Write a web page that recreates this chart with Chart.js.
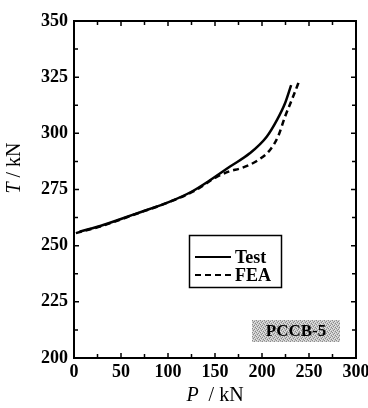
<!DOCTYPE html>
<html>
<head>
<meta charset="utf-8">
<script src="https://cdn.jsdelivr.net/npm/chart.js@4"></script>
<style>
  html, body { margin: 0; padding: 0; background: #fff; }
  #wrap { width: 368px; height: 408px; }
</style>
</head>
<body>
<div id="wrap"><canvas id="tc"></canvas></div>
<script>
// values
const testP = [6, 31, 67, 102, 125, 145, 166, 187, 205, 216, 224.5, 231];
const testT = [256.2, 259.2, 264.4, 269.6, 274, 279.2, 285.2, 291.1, 298.5, 306, 313.4, 321.5];
const feaP = [2, 30, 65, 100, 130, 150, 166, 177, 194, 208.5, 217, 224.5, 231.6, 238.6, 240];
const feaT = [255.6, 258.8, 264, 269.2, 274.8, 280.2, 283.2, 284.4, 287.6, 292.6, 298.5, 307.4, 314.8, 322.3, 324];
const xTicks = [0, 50, 100, 150, 200, 250, 300];
const yTicks = [200, 225, 250, 275, 300, 325, 350];
const seriesNames = ["Test", "FEA"];
const specimen = "PCCB-5";

const serif = "'Liberation Serif', 'DejaVu Serif', serif";

function pts(xs, ys) {
  return xs.map((x, i) => ({ x: x, y: ys[i] }));
}

// speckled grey like the scanned label box
function speckle(ctx) {
  const c = document.createElement("canvas");
  c.width = 4; c.height = 4;
  const g = c.getContext("2d");
  g.fillStyle = "#c4c4c4";
  g.fillRect(0, 0, 4, 4);
  g.fillStyle = "#8a8a8a";
  [[0, 0], [2, 1], [1, 2], [3, 3]].forEach(p => g.fillRect(p[0], p[1], 1, 1));
  g.fillStyle = "#e6e6e6";
  [[1, 0], [3, 1], [0, 3], [2, 2]].forEach(p => g.fillRect(p[0], p[1], 1, 1));
  return ctx.createPattern(c, "repeat");
}

// inward ticks, frame, axis titles, legend and label box
const decor = {
  id: "decor",
  afterDraw(chart) {
    const ctx = chart.ctx;
    const a = chart.chartArea;
    const xs = chart.scales.x, ys = chart.scales.y;
    ctx.save();
    ctx.strokeStyle = "#000";
    ctx.lineWidth = 1.5;
    // ticks
    for (let v = 0; v <= 300; v += 25) {
      const px = xs.getPixelForValue(v);
      const len = v % 50 === 0 ? 5 : 4;
      ctx.beginPath();
      ctx.moveTo(px, a.bottom); ctx.lineTo(px, a.bottom - len);
      ctx.moveTo(px, a.top); ctx.lineTo(px, a.top + len);
      ctx.stroke();
    }
    for (let v = 200; v <= 350; v += 12.5) {
      const py = ys.getPixelForValue(v);
      const len = v % 25 === 0 ? 5 : 4;
      ctx.beginPath();
      ctx.moveTo(a.left, py); ctx.lineTo(a.left + len, py);
      ctx.moveTo(a.right, py); ctx.lineTo(a.right - len, py);
      ctx.stroke();
    }
    // frame
    ctx.lineWidth = 2;
    ctx.strokeRect(a.left, a.top, a.right - a.left, a.bottom - a.top);

    // x title: italic P / kN
    ctx.fillStyle = "#000";
    ctx.textBaseline = "alphabetic";
    const cx = (a.left + a.right) / 2;
    ctx.font = "italic 20px " + serif;
    const wP = ctx.measureText("P").width;
    ctx.font = "20px " + serif;
    const wR = ctx.measureText("  / kN").width;
    let sx = cx - (wP + wR) / 2;
    ctx.font = "italic 20px " + serif;
    ctx.fillText("P", sx, 401);
    ctx.font = "20px " + serif;
    ctx.fillText("  / kN", sx + wP, 401);

    // y title: italic T / kN, rotated
    ctx.save();
    ctx.translate(20, 168);
    ctx.rotate(-Math.PI / 2);
    ctx.font = "italic 20px " + serif;
    const wT = ctx.measureText("T").width;
    ctx.font = "20px " + serif;
    const wR2 = ctx.measureText(" / kN").width;
    sx = -(wT + wR2) / 2;
    ctx.font = "italic 20px " + serif;
    ctx.fillText("T", sx, 0);
    ctx.font = "20px " + serif;
    ctx.fillText(" / kN", sx + wT, 0);
    ctx.restore();

    // legend
    ctx.lineWidth = 1.5;
    ctx.strokeRect(189.5, 235.5, 92, 52);
    ctx.font = "bold 18px " + serif;
    ctx.textBaseline = "middle";
    ctx.lineWidth = 2;
    ctx.beginPath();
    ctx.moveTo(195, 257); ctx.lineTo(231, 257);
    ctx.stroke();
    ctx.fillText(seriesNames[0], 235, 258);
    ctx.setLineDash([6, 4]);
    ctx.beginPath();
    ctx.moveTo(195, 275); ctx.lineTo(231, 275);
    ctx.stroke();
    ctx.setLineDash([]);
    ctx.fillText(seriesNames[1], 235, 276);

    // specimen label
    ctx.fillStyle = speckle(ctx);
    ctx.fillRect(252, 320, 88, 22);
    ctx.fillStyle = "#000";
    ctx.font = "bold 17px " + serif;
    ctx.textAlign = "center";
    ctx.fillText(specimen, 296, 332);
    ctx.restore();
  }
};

new Chart(document.getElementById("tc"), {
  type: "line",
  data: {
    datasets: [
      {
        label: seriesNames[0],
        data: pts(testP, testT),
        borderColor: "#000",
        borderWidth: 2.5,
        pointRadius: 0,
        cubicInterpolationMode: "monotone"
      },
      {
        label: seriesNames[1],
        data: pts(feaP, feaT),
        borderColor: "#000",
        borderWidth: 2.5,
        borderDash: [6, 4],
        pointRadius: 0,
        cubicInterpolationMode: "monotone"
      }
    ]
  },
  options: {
    responsive: true,
    maintainAspectRatio: false,
    animation: false,
    layout: { padding: { left: 0, right: 12, top: 21, bottom: 0 } },
    plugins: { legend: { display: false }, tooltip: { enabled: false } },
    scales: {
      x: {
        type: "linear",
        min: 0, max: 300,
        afterBuildTicks: s => { s.ticks = xTicks.map(v => ({ value: v })); },
        afterFit: s => { s.height = 50; s.paddingLeft = 0; s.paddingRight = 0; },
        grid: { display: false, drawTicks: false },
        border: { display: false },
        ticks: { color: "#000", padding: 4, maxRotation: 0, font: { family: serif, size: 18, weight: "bold" } }
      },
      y: {
        type: "linear",
        min: 200, max: 350,
        afterBuildTicks: s => { s.ticks = yTicks.map(v => ({ value: v })); },
        afterFit: s => { s.width = 74; s.paddingTop = 0; s.paddingBottom = 0; },
        grid: { display: false, drawTicks: false },
        border: { display: false },
        ticks: { color: "#000", padding: 6, font: { family: serif, size: 18, weight: "bold" } }
      }
    }
  },
  plugins: [decor]
});
</script>
</body>
</html>
